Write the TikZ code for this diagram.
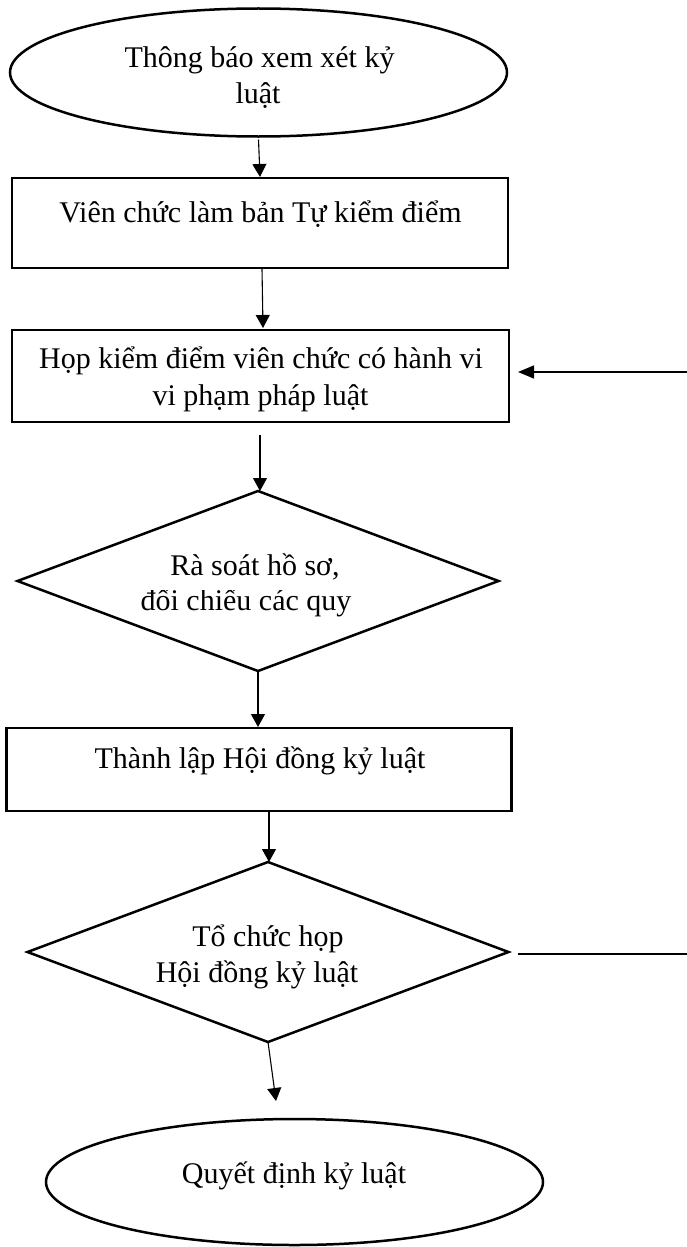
\documentclass[tikz,border=0pt]{standalone}
\usepackage{fontspec}
\setmainfont{Liberation Serif}
\usetikzlibrary{shapes.geometric,arrows.meta,calc}
\begin{document}
\begin{tikzpicture}[x=1pt,y=-1pt,
  shapebox/.style={draw,line width=2.5pt,inner sep=0pt,outer sep=0pt},
  endpoint/.style={shapebox,ellipse},
  stepbox/.style={shapebox,rectangle},
  decision/.style={shapebox,diamond},
  label/.style={anchor=base,inner sep=0pt,font=\fontsize{30}{37}\selectfont},
  arr/.style={line width=1.1pt,-{Triangle[length=13pt,width=14pt]}},
  backarr/.style={line width=1.3pt,-{Triangle[length=16pt,width=13pt]}},
  backline/.style={line width=1.5pt}]
\useasboundingbox (0,0) rectangle (687,1247);

% shapes of the flow
\node[endpoint,minimum width=497pt,minimum height=128pt] (e1) at (258.5,72.5) {};
\node[stepbox,minimum width=496pt,minimum height=90pt] (r1) at (260,223) {};
\node[stepbox,minimum width=497pt,minimum height=92pt] (r2) at (260.5,376) {};
\node[decision,minimum width=481pt,minimum height=180pt] (d1) at (258,581) {};
\node[stepbox,minimum width=505pt,minimum height=83pt] (r3) at (259,769.5) {};
\node[decision,minimum width=481pt,minimum height=180pt] (d2) at (268,952) {};
\node[endpoint,minimum width=497pt,minimum height=126pt] (e2) at (294.5,1182) {};

% texts
\node[label] (t1a) at (259.5,67) {Thông báo xem xét kỷ};
\node[label] (t1b) at (258,103) {luật};
\node[label] (t2) at (260.5,222) {Viên chức làm bản Tự kiểm điểm};
\node[label] (t3a) at (261,368) {Họp kiểm điểm viên chức có hành vi};
\node[label] (t3b) at (260.5,405) {vi phạm pháp luật};
\node[label] (t4a) at (255,575) {Rà soát hồ sơ,};
\begin{scope}
  \clip (0,590) rectangle (687,619);
  \node[label] (t4b) at (246,610) {đối chiếu các quy};
\end{scope}
\node[label] (t5) at (260,768) {Thành lập Hội đồng kỷ luật};
\node[label] (t6a) at (268,946) {Tổ chức họp};
\begin{scope}
  \clip (0,960) rectangle (687,989);
  \node[label] (t6b) at (257,982) {Hội đồng kỷ luật};
\end{scope}
\node[label] (t7) at (294,1183) {Quyết định kỷ luật};

% connectors
\draw[arr] ($(e1.south)+(0,3)$) -- ($(r1.north)+(0,-1)$);
\draw[arr] ($(r1.south)+(2,1)$) -- ($(r2.north)+(2.5,-2)$);
\draw[arr] ($(r2.south)+(-0.5,13)$) -- ($(d1.north)+(2,0)$);
\draw[arr] (d1.south) -- ($(r3.north)+(-1,-1)$);
\draw[arr] ($(r3.south)+(10,1)$) -- ($(d2.north)+(1,0)$);
\draw[arr] (d2.south) -- ($(e2.north)+(-18.5,-18)$);

% return lines on the right
\coordinate (fb1) at (687,372);
\coordinate (fb2) at (687,954);
\draw[backarr] (fb1) -- ($(fb1 -| r2.east)+(9,0)$);
\draw[backline] ($(d2.east)+(9,2)$) -- (fb2);
\end{tikzpicture}
\end{document}
